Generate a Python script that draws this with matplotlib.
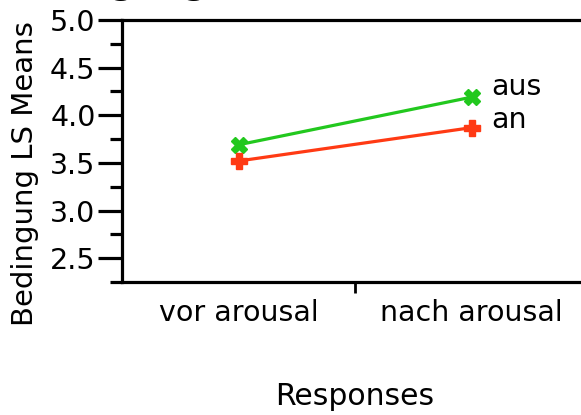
import matplotlib
matplotlib.use("Agg")
import matplotlib.pyplot as plt
from matplotlib.ticker import MultipleLocator

# LS means
responses = ["vor arousal", "nach arousal"]
aus_means = [3.69, 4.19]
an_means = [3.52, 3.87]
series_names = ["aus", "an"]

plt.rcParams["font.family"] = "DejaVu Sans"

fig = plt.figure(figsize=(5.81, 4.15), dpi=100)
ax = fig.add_axes([122 / 581, 1 - 282 / 415, 466 / 581, 262 / 415])

x = list(range(len(responses)))
green = "#22c81e"
red = "#ff3a14"
ax.plot(x, aus_means, color=green, lw=2.3, marker="X", ms=11, mec=green, mfc=green, clip_on=False)
ax.plot(x, an_means, color=red, lw=2.3, marker="P", ms=11, mec=red, mfc=red, clip_on=False)

ax.annotate(series_names[0], (x[-1], aus_means[-1]), xytext=(20, 10), textcoords="offset pixels",
            fontsize=20.5, va="center", ha="left")
ax.annotate(series_names[1], (x[-1], an_means[-1]), xytext=(20, 8), textcoords="offset pixels",
            fontsize=20.5, va="center", ha="left")

ax.set_xlim(-0.5, 1.5)
ax.set_ylim(2.25, 5.0)
ax.yaxis.set_major_locator(MultipleLocator(0.5))
ax.yaxis.set_minor_locator(MultipleLocator(0.25))
ax.set_yticks([2.5, 3.0, 3.5, 4.0, 4.5, 5.0])
ax.set_yticklabels(["2.5", "3.0", "3.5", "4.0", "4.5", "5.0"])

# category boundary tick only, labels as minor ticks at category centres
ax.set_xticks([0.5])
ax.set_xticklabels([""])
ax.set_xticks(x, minor=True)
ax.set_xticklabels(responses, minor=True)
ax.tick_params(axis="x", which="major", length=8, width=2, direction="out")
ax.tick_params(axis="x", which="minor", length=0, pad=12, labelsize=20.5)
ax.tick_params(axis="y", which="major", length=17, width=2.3, pad=2, labelsize=20.5)
ax.tick_params(axis="y", which="minor", length=9, width=2.3)

for side in ["left", "top", "bottom", "right"]:
    ax.spines[side].set_linewidth(2.3)

ax.set_xlabel("Responses", fontsize=21.5, labelpad=40)
fig.text(25 / 581, 1 - 174 / 415, "Bedingung LS Means", rotation=90, fontsize=21,
         ha="center", va="center")

# title above the crop, only the descenders show
fig.text(2 / 581, 1 + 6 / 415, "Bedingung", fontsize=24.5, fontweight="bold",
         ha="left", va="baseline")

fig.savefig("out.png", dpi=100)
